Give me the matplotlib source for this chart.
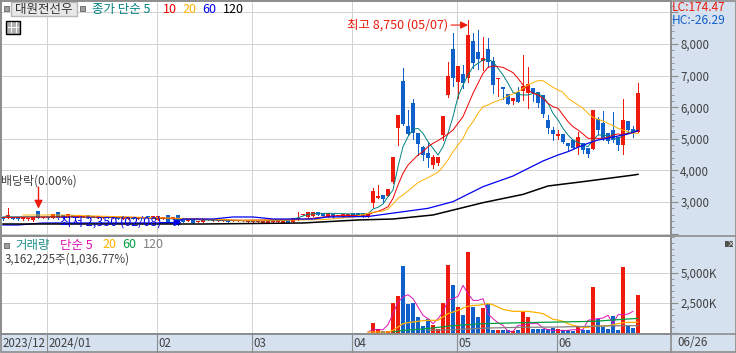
import numpy as np
import matplotlib
matplotlib.use('Agg')
import matplotlib.pyplot as plt
from matplotlib.patches import Rectangle
from matplotlib.ticker import MultipleLocator

plt.rcParams['font.family'] = ['Noto Sans CJK KR', 'DejaVu Sans']
plt.rcParams['font.size'] = 8.3

# candles, one per trading day, price in won
opens = [2535, 2514, 2514, 2514, 2451, 2451, 2430, 2715, 2483, 2514, 2493, 2683, 2578, 2535, 2600, 2520,
         2510, 2590, 2570, 2500, 2490, 2560, 2480, 2540, 2460, 2450, 2530, 2470, 2480, 2560, 2490, 2430,
         2460, 2588, 2470, 2588, 2430, 2395, 2430, 2377, 2377, 2430, 2400, 2400, 2400, 2430, 2390, 2390,
         2385, 2377, 2356, 2356, 2346, 2350, 2355, 2355, 2350, 2430, 2377, 2430, 2578, 2535, 2567, 2694,
         2662, 2535, 2609, 2557, 2535, 2557, 2641, 2641, 2641, 2535,
         2968, 3126, 3220, 3190, 3632, 5341, 6829, 5405, 6133, 5183, 4740, 4550, 4170, 4234, 5120, 6386,
         7842, 6797, 7050, 6924, 8095, 7747, 7462, 7842, 7462, 6892, 6640, 6418, 6196, 6481, 6512, 6449,
         6607, 6481, 6386, 5595, 5278, 5088, 5151, 4867, 4962, 4740, 4867, 4708, 4677, 5626, 5500, 5183,
         5278, 5057, 4803, 5563, 5310, 5215]
closes = [2451, 2588, 2472, 2451, 2535, 2504, 2514, 2483, 2514, 2483, 2620, 2493, 2514, 2620, 2510, 2580,
          2570, 2500, 2510, 2560, 2540, 2490, 2530, 2470, 2520, 2510, 2470, 2520, 2540, 2500, 2550, 2567,
          2520, 2377, 2510, 2272, 2356, 2430, 2325, 2409, 2430, 2462, 2440, 2430, 2430, 2380, 2425, 2420,
          2420, 2430, 2409, 2409, 2409, 2400, 2400, 2395, 2400, 2346, 2483, 2483, 2620, 2673, 2673, 2588,
          2557, 2662, 2535, 2588, 2620, 2620, 2557, 2557, 2535, 2662,
          3347, 3190, 3095, 3410, 4424, 5753, 5468, 5151, 5183, 4835, 4487, 4392, 4424, 4424, 5721, 6987,
          6924, 7304, 6766, 8285, 7400, 7525, 7557, 7430, 6702, 6924, 6576, 6101, 6291, 6165, 6670, 6734,
          6449, 6133, 5785, 5341, 5151, 5151, 4898, 4772, 4708, 5057, 4645, 4518, 5911, 5278, 5025, 4930,
          4962, 4803, 5595, 5278, 5183, 6449]
highs = [2535, 2799, 2514, 2514, 2535, 2504, 2514, 2715, 2520, 2514, 2620, 2683, 2600, 2630, 2600, 2580,
         2570, 2590, 2570, 2560, 2540, 2560, 2530, 2540, 2520, 2510, 2530, 2520, 2540, 2560, 2550, 2567,
         2520, 2588, 2510, 2588, 2430, 2430, 2430, 2409, 2430, 2462, 2440, 2430, 2430, 2430, 2425, 2420,
         2420, 2430, 2409, 2409, 2409, 2400, 2400, 2395, 2400, 2430, 2483, 2673, 2620, 2673, 2673, 2694,
         2662, 2662, 2609, 2588, 2620, 2620, 2641, 2641, 2641, 2662,
         3443, 3537, 3220, 3410, 4424, 5753, 7240, 5911, 6260, 5183, 4771, 4898, 4487, 4424, 5721, 7430,
         8348, 7304, 7335, 8750, 8348, 8443, 8222, 8190, 7589, 6924, 6640, 6418, 6291, 6640, 7652, 7272,
         6607, 6481, 6386, 5753, 5373, 5278, 5151, 4867, 4962, 5215, 4867, 4708, 5911, 5690, 5880, 5183,
         5848, 5057, 6260, 5563, 5405, 6766]
lows = [2430, 2483, 2451, 2440, 2440, 2440, 2409, 2483, 2483, 2470, 2493, 2470, 2500, 2535, 2510, 2520,
        2510, 2500, 2510, 2500, 2490, 2490, 2480, 2470, 2460, 2450, 2470, 2470, 2480, 2500, 2490, 2430,
        2460, 2377, 2470, 2272, 2356, 2395, 2325, 2377, 2377, 2430, 2400, 2400, 2400, 2380, 2390, 2390,
        2385, 2377, 2356, 2356, 2346, 2350, 2355, 2355, 2350, 2346, 2377, 2430, 2578, 2535, 2567, 2588,
        2557, 2535, 2483, 2557, 2535, 2557, 2557, 2557, 2535, 2535,
        2841, 3126, 3000, 3190, 3600, 4803, 5437, 5120, 4993, 4487, 4329, 4107, 4075, 4170, 4960, 6323,
        6670, 6291, 6607, 6797, 7240, 7209, 7177, 7272, 6449, 6355, 6260, 6101, 6102, 6165, 6228, 5974,
        6196, 6006, 5690, 5183, 4962, 4993, 4867, 4613, 4708, 4518, 4550, 4424, 4677, 5151, 4962, 4867,
        4898, 4645, 4518, 5215, 5057, 5215]

# volume bars only stand out from April on, in thousand shares
vol_idx = list(range(74, 128))
volumes = [861, 361, 140, 140, 2472, 3056, 5556, 2389, 2472, 1306, 556, 1194, 639, 361, 2472, 5639,
           3972, 2139, 1472, 6722, 2139, 1306, 2056, 2389, 222, 222, 222, 222, 140, 222, 1722, 1306,
           306, 306, 306, 306, 389, 306, 222, 222, 140, 472, 222, 222, 3806, 1139, 472, 306,
           1389, 222, 5472, 556, 389, 3162]

# price moving averages
ma5_idx = [0, 10, 20, 30, 40, 50, 57, 59, 61, 63, 66, 70] + list(range(73, 128))
ma5 = [2530, 2530, 2510, 2490, 2430, 2400, 2420, 2500, 2610, 2640, 2640, 2620,
       2619, 2778, 2830, 2936, 3168, 3379, 4118, 4750, 5067, 5299, 5331, 5172, 4909, 4698, 4487, 4750,
       5172, 5700, 6333, 6702, 7019, 7282, 7388, 7493, 7515, 7441, 7230, 7019, 6760, 6471, 6407, 6386,
       6386, 6439, 6439, 6333, 6122, 5806, 5595, 5331, 5120, 4962, 4888, 4804, 4751, 4962, 5120, 5120,
       5088, 5015, 4983, 5120, 5194, 5226, 5278]
ma10_idx = [0, 12, 24, 36, 48, 60, 66, 70] + list(range(73, 128))
ma10 = [2510, 2530, 2520, 2470, 2420, 2450, 2560, 2570,
        2588, 2662, 2704, 2767, 2851, 3115, 3537, 3907, 4170, 4329, 4487, 4592, 4750, 4856, 4940, 5046,
        5151, 5278, 5489, 5700, 6069, 6439, 6755, 7071, 7261, 7304, 7282, 7262, 7178, 7093, 6914, 6703,
        6544, 6439, 6386, 6281, 6122, 6017, 5964, 5753, 5542, 5384, 5278, 5152, 5015, 5015, 5015, 5015,
        5046, 5120, 5152, 5130, 5173, 5194, 5257]
ma20_idx = [4, 12, 24, 36, 48, 58, 64, 70] + list(range(73, 128))
ma20 = [2588, 2588, 2530, 2480, 2420, 2430, 2440, 2520,
        2640, 2672, 2693, 2714, 2778, 2936, 3115, 3221, 3347, 3484, 3611, 3696, 3769, 3854, 3938, 4118,
        4329, 4592, 4803, 5014, 5331, 5542, 5805, 6017, 6069, 6150, 6207, 6270, 6355, 6420, 6492, 6600,
        6703, 6777, 6840, 6840, 6734, 6629, 6544, 6471, 6281, 6175, 6070, 5964, 5806, 5679, 5616, 5563,
        5490, 5416, 5331, 5278, 5226, 5173, 5173]
ma60_idx = [0, 3, 8, 34, 36, 42, 46, 50, 54, 62, 65, 73, 85, 90, 96, 102, 106, 108, 111, 113,
            115, 117, 119, 121, 123, 125, 127]
ma60 = [2272, 2272, 2335, 2335, 2461, 2461, 2525, 2525, 2461, 2461, 2525, 2540, 2799, 3010, 3484, 3822,
        4139, 4297, 4487, 4593, 4730, 4857, 4962, 5015, 5088, 5152, 5257]
ma120_idx = [0, 20, 40, 60, 71, 78, 86, 96, 104, 109, 116, 126, 127]
ma120 = [2303, 2303, 2303, 2335, 2430, 2461, 2588, 2978, 3240, 3506, 3643, 3850, 3875]

# volume moving averages, thousand shares
vma5_idx = list(range(73, 127))
vma5 = [83, 278, 278, 278, 694, 1611, 2583, 3000, 3194, 2861, 2167, 1472, 1194, 778, 1194, 1750, 2722,
        2861, 3056, 3972, 3278, 2722, 2722, 2861, 1611, 1194, 861, 639, 139, 139, 639, 639, 778, 778, 778,
        417, 278, 222, 222, 222, 222, 278, 278, 278, 1056, 1139, 1194, 1250, 1472, 778, 1528, 1528, 1583, 1806]
vma20_idx = [73, 77] + list(range(78, 128))
vma20 = [83, 83, 222, 500, 778, 861, 917, 972, 1028, 1056, 1056, 1056, 1333, 1611, 1750, 1889, 2083,
         2222, 2306, 2306, 2389, 2444, 2361, 2167, 1972, 1889, 1806, 1806, 1806, 1806, 1750, 1694, 1611,
         1389, 1139, 1083, 972, 778, 639, 556, 472, 472, 583, 583, 611, 611, 694, 778, 861, 889, 889, 917]
vma60_idx = [78, 80, 84, 90, 96, 104, 118, 122, 124, 127]
vma60 = [83, 222, 333, 611, 778, 861, 972, 1083, 1139, 1222]
vma120_idx = [85, 90, 97, 103, 111, 124, 127]
vma120 = [222, 278, 417, 472, 500, 611, 611]

price_labels = ['', '3,000', '4,000', '5,000', '6,000', '7,000', '8,000', '']
vol_labels = ['', '2,500K', '5,000K']
month_pos = [8.7, 30.7, 49.7, 69.7, 90.7, 110.7]
month_names = ['2024/01', '02', '03', '04', '05', '06']

RED = '#ee1a0c'
BLUE = '#1060cc'
GRID = '#d2d2d2'
EDGE = '#8c8c8c'
TEXT = '#404040'
KOR = 9

W, H = 736, 353
fig = plt.figure(figsize=(W / 100, H / 100), dpi=100, facecolor='#d6e1ef')


def box(x0, y0, x1, y1):
    return [x0 / W, 1 - y1 / H, (x1 - x0) / W, (y1 - y0) / H]


def put(x, y, s, color=TEXT, **kw):
    fig.text(x / W, 1 - y / H, s, color=color, va='center', zorder=20, **kw)


ax = fig.add_axes(box(1, 1, 670.5, 236))
ax2 = fig.add_axes(box(1, 236, 670.5, 333.5))

for a in (ax, ax2):
    a.set_facecolor('white')
    a.set_xlim(-0.4, 133.5)
    a.set_xticks(month_pos)
    a.grid(color=GRID, lw=0.7, antialiased=False)
    a.set_axisbelow(True)
    a.yaxis.tick_right()
    for s in a.spines.values():
        s.set_color(EDGE)
        s.set_linewidth(1.2)
    a.tick_params(axis='y', which='major', length=5, color=EDGE, labelcolor=TEXT, pad=2, labelsize=8.3)
    a.tick_params(axis='y', which='minor', length=2.5, color=EDGE)

ax.set_ylim(1923, 9361)
ax.set_yticks(np.arange(2000, 9001, 1000))
ax.set_yticklabels(price_labels)
ax.yaxis.set_minor_locator(MultipleLocator(200))
ax.tick_params(axis='x', length=0, labelbottom=False)

ax2.set_ylim(-40, 8083)
ax2.set_yticks([0, 2500, 5000])
ax2.set_yticklabels(vol_labels)
ax2.yaxis.set_minor_locator(MultipleLocator(500))
ax2.tick_params(axis='x', length=14, color=EDGE, labelbottom=False)

# candles
idx = np.arange(len(opens))
o = np.array(opens)
c = np.array(closes)
colors = [RED if b > a else BLUE for a, b in zip(o, c)]
ax.vlines(idx, lows, highs, colors=colors, lw=0.6, antialiased=False, zorder=3)
ax.bar(idx, np.abs(c - o), bottom=np.minimum(o, c), width=0.62, color=colors, antialiased=False, zorder=3)

ax.plot(ma5_idx, ma5, color='#008080', lw=0.7, zorder=4)
ax.plot(ma10_idx, ma10, color='#f00000', lw=0.7, zorder=4)
ax.plot(ma20_idx, ma20, color='#ffb000', lw=0.7, zorder=4)
ax.plot(ma60_idx, ma60, color='#0000f0', lw=0.9, zorder=4)
ax.plot(ma120_idx, ma120, color='black', lw=1.1, zorder=4)

# volume
vol_colors = [colors[i] for i in vol_idx]
ax2.bar(vol_idx, volumes, width=0.62, color=vol_colors, antialiased=False, zorder=3)
ax2.plot(vma5_idx, vma5, color='#e010b0', lw=0.7, zorder=4)
ax2.plot(vma20_idx, vma20, color='#ffb000', lw=0.9, zorder=4)
ax2.plot(vma60_idx, vma60, color='#00a040', lw=0.9, zorder=4)
ax2.plot(vma120_idx, vma120, color='#808080', lw=0.9, zorder=4)

# annotations on the price pane
ax.annotate('', xy=(93, 8600), xytext=(89.6, 8600),
            arrowprops=dict(arrowstyle='-|>', color=RED, lw=0.8, mutation_scale=11, shrinkA=0, shrinkB=0), zorder=6)
ax.text(89, 8600, '최고 8,750 (05/07)', color=RED, ha='right', va='center', zorder=6, fontsize=9)
ax.annotate('', xy=(35.7, 2350), xytext=(31.5, 2350),
            arrowprops=dict(arrowstyle='-|>', color='#0000f0', lw=0.8, mutation_scale=11, shrinkA=0, shrinkB=0), zorder=6)
ax.text(31.6, 2350, '최저 2,350 (02/08)', color='#0000f0', ha='right', va='center', zorder=6, fontsize=9)
ax.annotate('', xy=(7.1, 2790), xytext=(7.1, 3470),
            arrowprops=dict(arrowstyle='-|>', color=RED, lw=1.0, mutation_scale=12, shrinkA=0, shrinkB=0), zorder=6)

# date strip
ax2.annotate('2023/12', xy=(0, 0), xycoords=('axes fraction', 'axes fraction'), xytext=(2, -10),
             textcoords='offset pixels', color=TEXT, va='center')
for pos, name in zip(month_pos, month_names):
    ax2.annotate(name, xy=(pos, 0), xycoords=('data', 'axes fraction'), xytext=(2, -10),
                 textcoords='offset pixels', color=TEXT, va='center')
put(677, 343, '06/26')

# header row
fig.add_artist(Rectangle((11 / W, 1 - 16 / H), 66 / W, 14 / H, transform=fig.transFigure,
                         fc='#e8e8e8', ec='#b8b8b8', lw=1, zorder=15))
for sx, sy in [(4, 6), (80, 6), (4, 243)]:
    fig.add_artist(Rectangle((sx / W, 1 - (sy + 5) / H), 5 / W, 5 / H, transform=fig.transFigure,
                             fc='#a0a0a0', ec='#707070', lw=0.7, zorder=15))
put(15, 9.5, '대원전선우', color='#303030', fontsize=KOR)
put(92, 9.5, '종가 단순 5', color='#008080', fontsize=KOR)
put(163, 9.5, '10', color='#f00000', fontsize=KOR)
put(182, 9.5, '20', color='#ffb000', fontsize=KOR)
put(202, 9.5, '60', color='#0000f0', fontsize=KOR)
put(223, 9.5, '120', color='black', fontsize=KOR)

# little table icon
fig.add_artist(Rectangle((6.5 / W, 1 - 33.5 / H), 13 / W, 13 / H, transform=fig.transFigure,
                         fc='#b0b0b0', ec='black', lw=1, zorder=15))
for tx in (10.5, 15.5):
    fig.add_artist(plt.Line2D([tx / W, tx / W], [1 - 32 / H, 1 - 22 / H], color='white', lw=0.7, zorder=16))
fig.add_artist(plt.Line2D([8 / W, 18 / W], [1 - 27 / H, 1 - 27 / H], color='white', lw=0.7, zorder=16))

put(1.5, 181, '배당락(0.00%)', fontsize=8.6)
put(672, 7.5, 'LC:174.47', color=RED, fontsize=8.6)
put(672, 20, 'HC:-26.29', color=BLUE, fontsize=8.6)

put(15, 245, '거래량', color='#20908c', fontsize=KOR)
put(60, 245, '단순 5', color='#e010b0', fontsize=KOR)
put(102, 245, '20', color='#ffb000', fontsize=KOR)
put(122, 245, '60', color='#00a040', fontsize=KOR)
put(143, 245, '120', color='#808080', fontsize=KOR)
put(5, 259, '3,162,225주(1,036.77%)')

# small expand button on the right
fig.add_artist(Rectangle((725 / W, 1 - 247 / H), 8 / W, 6 / H, transform=fig.transFigure, fc='#505050', ec='none', zorder=15))
put(727, 243.8, '×', color='white', fontsize=6)

# outer frame
fig.add_artist(Rectangle((0.5 / W, 1 - 352 / H), 735 / W, 351.5 / H, transform=fig.transFigure,
                         fc='none', ec=EDGE, lw=1.2, zorder=18))
fig.add_artist(plt.Line2D([0, 1], [1 - 236 / H, 1 - 236 / H], color=EDGE, lw=1.2, zorder=18))
fig.add_artist(plt.Line2D([0, 1], [1 - 333.5 / H, 1 - 333.5 / H], color=EDGE, lw=1.2, zorder=18))
fig.add_artist(plt.Line2D([670.5 / W, 670.5 / W], [0, 1], color=EDGE, lw=1.2, zorder=18))

fig.savefig('out.png', dpi=100, facecolor=fig.get_facecolor())
